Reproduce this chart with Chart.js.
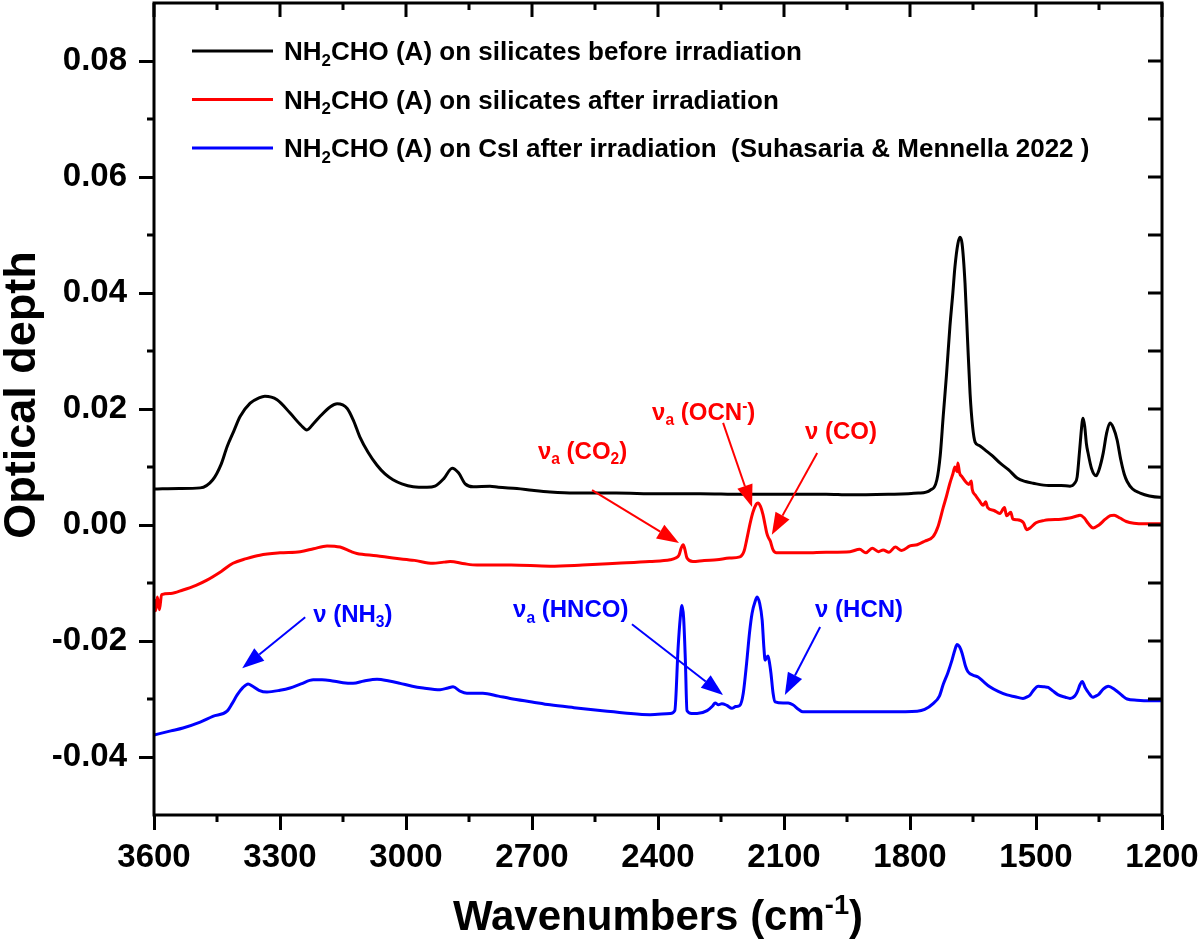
<!DOCTYPE html>
<html><head><meta charset="utf-8">
<script src="https://cdn.jsdelivr.net/npm/chart.js@4.4.0/dist/chart.umd.min.js"></script>
<style>html,body{margin:0;padding:0;background:#fff}canvas{display:block}</style>
</head><body>
<canvas id="c" width="1200" height="950"></canvas>
<script>
// ---------- data ----------
const blackWn = [3600,3540,3490,3460,3440,3426,3410,3395,3371,3350,3336,3307,3276,3250,3236,3220,3205,3180,3164,3140,3125,3110,3090,3069,3050,3031,3010,2983,2950,2931,2910,2890,2875,2859,2840,2800,2780,2736,2700,2657,2600,2500,2400,2300,2200,2100,2000,1943,1850,1780,1752,1736,1728,1721,1713,1705,1698,1693,1686,1681,1676,1669,1663,1657,1651,1645,1635,1626,1605,1586,1565,1545,1525,1507,1470,1440,1419,1408,1402,1396,1390,1388,1384,1380,1376,1368,1357,1350,1340,1332,1324,1316,1307,1298,1290,1283,1270,1252,1230,1205,1200];
const blackOD = [0.0062,0.0063,0.0064,0.0078,0.0105,0.0135,0.0162,0.0187,0.0210,0.0219,0.0222,0.0216,0.0193,0.0172,0.0164,0.0175,0.0187,0.0204,0.0209,0.0201,0.0180,0.0152,0.0125,0.0103,0.0088,0.0078,0.0071,0.0066,0.0065,0.0067,0.0080,0.0098,0.0090,0.0071,0.0066,0.0067,0.0065,0.0063,0.0060,0.0057,0.0055,0.0055,0.0054,0.0054,0.0053,0.0053,0.0053,0.0052,0.0053,0.0055,0.0060,0.0078,0.0120,0.0187,0.0260,0.0342,0.0400,0.0445,0.0485,0.0496,0.0485,0.0417,0.0320,0.0227,0.0170,0.0143,0.0137,0.0132,0.0120,0.0107,0.0095,0.0081,0.0075,0.0072,0.0068,0.0068,0.0067,0.0072,0.0083,0.0130,0.0178,0.0184,0.0170,0.0140,0.0124,0.0098,0.0085,0.0095,0.0124,0.0158,0.0176,0.0168,0.0147,0.0112,0.0088,0.0075,0.0062,0.0055,0.0050,0.0048,0.0048];

const redWn = [3600,3596,3592,3587,3582,3560,3531,3500,3474,3440,3412,3380,3348,3300,3252,3220,3188,3157,3130,3117,3070,3031,2980,2936,2910,2895,2860,2831,2750,2657,2580,2498,2420,2371,2358,2350,2345,2340,2336,2331,2317,2290,2260,2230,2205,2195,2189,2180,2174,2166,2162,2156,2150,2145,2141,2137,2133,2126,2118,2102,2050,2000,1943,1920,1905,1890,1875,1864,1850,1835,1820,1800,1783,1765,1745,1733,1721,1713,1705,1698,1693,1688,1686,1682,1676,1668,1660,1654,1652,1645,1635,1626,1620,1615,1600,1586,1575,1570,1560,1555,1545,1530,1522,1514,1500,1480,1467,1440,1420,1400,1395,1385,1375,1364,1350,1335,1323,1314,1300,1285,1267,1240,1205,1200];
const redOD = [-0.0128,-0.0148,-0.0124,-0.0146,-0.0120,-0.0118,-0.0112,-0.0104,-0.0095,-0.0080,-0.0066,-0.0058,-0.0052,-0.0048,-0.0046,-0.0041,-0.0036,-0.0038,-0.0046,-0.0049,-0.0053,-0.0057,-0.0061,-0.0066,-0.0064,-0.0063,-0.0067,-0.0069,-0.0069,-0.0071,-0.0069,-0.0066,-0.0063,-0.0060,-0.0057,-0.0052,-0.0040,-0.0034,-0.0042,-0.0057,-0.0063,-0.0061,-0.0060,-0.0057,-0.0055,-0.0045,-0.0026,0.0005,0.0022,0.0036,0.0038,0.0032,0.0018,0.0000,-0.0014,-0.0022,-0.0027,-0.0043,-0.0048,-0.0048,-0.0048,-0.0047,-0.0046,-0.0042,-0.0048,-0.0040,-0.0046,-0.0043,-0.0047,-0.0038,-0.0044,-0.0036,-0.0034,-0.0028,-0.0020,-0.0002,0.0030,0.0050,0.0072,0.0088,0.0100,0.0092,0.0107,0.0090,0.0083,0.0075,0.0070,0.0076,0.0062,0.0052,0.0042,0.0034,0.0040,0.0030,0.0025,0.0020,0.0030,0.0016,0.0022,0.0010,0.0009,0.0004,-0.0008,-0.0005,0.0004,0.0008,0.0009,0.0010,0.0012,0.0016,0.0017,0.0012,0.0002,-0.0005,0.0000,0.0010,0.0016,0.0017,0.0012,0.0006,0.0003,0.0002,0.0002,0.0002];

const blueWn = [3600,3560,3531,3490,3460,3426,3414,3402,3388,3376,3365,3350,3331,3300,3276,3250,3221,3200,3181,3150,3126,3100,3069,3040,3014,2985,2959,2919,2900,2888,2870,2855,2817,2780,2752,2700,2657,2600,2538,2480,2419,2371,2360,2352,2347,2343,2339,2335,2331,2320,2307,2283,2270,2264,2256,2248,2236,2224,2215,2205,2197,2189,2182,2176,2168,2164,2158,2152,2148,2145,2141,2138,2134,2131,2126,2121,2102,2090,2079,2065,2055,2000,1943,1850,1783,1765,1745,1730,1721,1710,1700,1693,1688,1682,1676,1668,1662,1650,1638,1625,1610,1590,1569,1550,1531,1520,1514,1505,1495,1480,1471,1460,1447,1430,1419,1408,1402,1395,1390,1383,1376,1364,1358,1352,1340,1328,1312,1295,1283,1260,1230,1200];
const blueOD = [-0.0362,-0.0355,-0.0350,-0.0340,-0.0330,-0.0321,-0.0308,-0.0293,-0.0280,-0.0274,-0.0278,-0.0285,-0.0288,-0.0285,-0.0281,-0.0274,-0.0267,-0.0267,-0.0268,-0.0272,-0.0273,-0.0269,-0.0266,-0.0269,-0.0273,-0.0278,-0.0281,-0.0284,-0.0281,-0.0279,-0.0287,-0.0290,-0.0290,-0.0295,-0.0299,-0.0305,-0.0310,-0.0315,-0.0320,-0.0324,-0.0327,-0.0325,-0.0320,-0.0210,-0.0160,-0.0139,-0.0160,-0.0230,-0.0320,-0.0325,-0.0325,-0.0320,-0.0312,-0.0307,-0.0310,-0.0308,-0.0311,-0.0316,-0.0313,-0.0311,-0.0290,-0.0238,-0.0185,-0.0152,-0.0130,-0.0124,-0.0135,-0.0164,-0.0210,-0.0233,-0.0228,-0.0226,-0.0240,-0.0256,-0.0290,-0.0305,-0.0307,-0.0307,-0.0310,-0.0318,-0.0322,-0.0322,-0.0322,-0.0322,-0.0321,-0.0318,-0.0308,-0.0295,-0.0275,-0.0255,-0.0233,-0.0215,-0.0206,-0.0210,-0.0221,-0.0243,-0.0253,-0.0259,-0.0262,-0.0270,-0.0279,-0.0287,-0.0293,-0.0296,-0.0299,-0.0296,-0.0293,-0.0284,-0.0278,-0.0279,-0.0280,-0.0286,-0.0293,-0.0297,-0.0299,-0.0295,-0.0288,-0.0275,-0.0270,-0.0280,-0.0288,-0.0297,-0.0295,-0.0293,-0.0283,-0.0278,-0.0284,-0.0294,-0.0300,-0.0302,-0.0303,-0.0303];

const seriesLabels = [
  "NH_{2}CHO (A) on silicates before irradiation",
  "NH_{2}CHO (A) on silicates after irradiation",
  "NH_{2}CHO (A) on CsI after irradiation  (Suhasaria & Mennella 2022 )"
];
const seriesColors = ["#000000", "#ff0000", "#0000ff"];

const xTicks = [3600, 3300, 3000, 2700, 2400, 2100, 1800, 1500, 1200];
const xMinor = [3450, 3150, 2850, 2550, 2250, 1950, 1650, 1350];
const yTicks = [-0.04, -0.02, 0.00, 0.02, 0.04, 0.06, 0.08];
const yMinor = [-0.03, -0.01, 0.01, 0.03, 0.05, 0.07];

const annLabels = ["ν_{a} (CO_{2})", "ν_{a} (OCN^{-})", "ν (CO)", "ν (NH_{3})", "ν_{a} (HNCO)", "ν (HCN)"];
const annColors = ["#ff0000", "#ff0000", "#ff0000", "#0000ff", "#0000ff", "#0000ff"];
const annTextWn = [2686, 2414, 2050, 3221, 2745, 2026];
const annTextOD = [0.0114, 0.0181, 0.0148, -0.0167, -0.0159, -0.0159];
const arrowFromWn = [2557, 2245, 2021, 3240, 2462, 2014];
const arrowFromOD = [0.0060, 0.0176, 0.0124, -0.0159, -0.0171, -0.0176];
const arrowToWn = [2350, 2176, 2129, 3390, 2245, 2098];
const arrowToOD = [-0.0031, 0.0031, -0.0017, -0.0247, -0.0293, -0.0293];

// ---------- helpers ----------
const FONT = '"Liberation Sans", Arial, Helvetica, sans-serif';

function parseRich(str) {
  const segs = [];
  let i = 0, buf = "";
  while (i < str.length) {
    if ((str[i] === "_" || str[i] === "^") && str[i + 1] === "{") {
      if (buf) { segs.push({ t: buf, k: "n" }); buf = ""; }
      const end = str.indexOf("}", i);
      segs.push({ t: str.slice(i + 2, end), k: str[i] === "_" ? "sub" : "sup" });
      i = end + 1;
    } else { buf += str[i]; i++; }
  }
  if (buf) segs.push({ t: buf, k: "n" });
  return segs;
}
function richWidth(ctx, segs, size) {
  let w = 0;
  for (const s of segs) {
    const sz = s.k === "n" ? size : size * 0.65;
    ctx.font = "bold " + sz + "px " + FONT;
    w += ctx.measureText(s.t).width;
  }
  return w;
}
function drawRich(ctx, str, x, y, size, color, align) {
  const segs = parseRich(str);
  const w = richWidth(ctx, segs, size);
  let cx = align === "center" ? x - w / 2 : x;
  ctx.fillStyle = color;
  ctx.textBaseline = "alphabetic";
  ctx.textAlign = "left";
  for (const s of segs) {
    const sz = s.k === "n" ? size : size * 0.65;
    const dy = s.k === "sub" ? size * 0.22 : (s.k === "sup" ? -size * 0.38 : 0);
    ctx.font = "bold " + sz + "px " + FONT;
    ctx.fillText(s.t, cx, y + dy);
    cx += ctx.measureText(s.t).width;
  }
}
function drawArrow(ctx, x1, y1, x2, y2, color) {
  const ang = Math.atan2(y2 - y1, x2 - x1);
  const hl = 22, hw = 8;
  const bx = x2 - hl * Math.cos(ang), by = y2 - hl * Math.sin(ang);
  ctx.strokeStyle = color; ctx.fillStyle = color; ctx.lineWidth = 2;
  ctx.beginPath(); ctx.moveTo(x1, y1); ctx.lineTo(bx, by); ctx.stroke();
  ctx.beginPath();
  ctx.moveTo(x2, y2);
  ctx.lineTo(bx + hw * Math.sin(ang), by - hw * Math.cos(ang));
  ctx.lineTo(bx - hw * Math.sin(ang), by + hw * Math.cos(ang));
  ctx.closePath(); ctx.fill();
}

const decorPlugin = {
  id: "decor",
  afterDraw(chart) {
    const ctx = chart.ctx, a = chart.chartArea;
    const xs = chart.scales.x, ys = chart.scales.y;
    ctx.save();
    // frame
    ctx.strokeStyle = "#000"; ctx.lineWidth = 3;
    ctx.strokeRect(a.left, a.top, a.right - a.left, a.bottom - a.top);
    ctx.lineWidth = 3;
    ctx.beginPath();
    for (const v of xMinor) {
      const p = xs.getPixelForValue(v);
      ctx.moveTo(p, a.bottom); ctx.lineTo(p, a.bottom + 7);
      ctx.moveTo(p, a.top); ctx.lineTo(p, a.top + 7);
    }
    for (const v of xTicks) {
      const p = xs.getPixelForValue(v);
      ctx.moveTo(p, a.top); ctx.lineTo(p, a.top + 14);
    }
    for (const v of yMinor) {
      const p = ys.getPixelForValue(v);
      ctx.moveTo(a.left, p); ctx.lineTo(a.left - 7, p);
      ctx.moveTo(a.right, p); ctx.lineTo(a.right - 14, p);
    }
    for (const v of yTicks) {
      const p = ys.getPixelForValue(v);
      ctx.moveTo(a.right, p); ctx.lineTo(a.right - 14, p);
    }
    ctx.stroke();

    // legend
    chart.data.datasets.forEach((ds, i) => {
      const ly = 51 + i * 48.5;
      ctx.strokeStyle = ds.borderColor; ctx.lineWidth = 3;
      ctx.beginPath(); ctx.moveTo(192, ly); ctx.lineTo(273, ly); ctx.stroke();
      drawRich(ctx, seriesLabels[i], 284, ly + 9, 26, "#000", "left");
    });

    // annotations
    for (let i = 0; i < annLabels.length; i++) {
      drawRich(ctx, annLabels[i], xs.getPixelForValue(annTextWn[i]), ys.getPixelForValue(annTextOD[i]), 24, annColors[i], "left");
      drawArrow(ctx,
        xs.getPixelForValue(arrowFromWn[i]), ys.getPixelForValue(arrowFromOD[i]),
        xs.getPixelForValue(arrowToWn[i]), ys.getPixelForValue(arrowToOD[i]), annColors[i]);
    }

    // axis titles
    drawRich(ctx, "Wavenumbers (cm^{-1})", (a.left + a.right) / 2, 930, 42, "#000", "center");
    ctx.translate(35, 395);
    ctx.rotate(-Math.PI / 2);
    drawRich(ctx, "Optical depth", 0, 0, 45, "#000", "center");
    ctx.restore();
  }
};

function pts(wn, od) { return wn.map((w, i) => ({ x: w, y: od[i] })); }

const tickFont = { family: FONT, size: 33, weight: "bold" };

new Chart(document.getElementById("c"), {
  type: "line",
  data: {
    datasets: [
      { label: seriesLabels[0], data: pts(blackWn, blackOD), borderColor: seriesColors[0] },
      { label: seriesLabels[1], data: pts(redWn, redOD), borderColor: seriesColors[1] },
      { label: seriesLabels[2], data: pts(blueWn, blueOD), borderColor: seriesColors[2] }
    ].map(d => Object.assign(d, { borderWidth: 3, pointRadius: 0, fill: false, cubicInterpolationMode: "monotone" }))
  },
  options: {
    responsive: false, animation: false, devicePixelRatio: 1,
    layout: { padding: { left: 0, right: 38, top: 3, bottom: 0 }, autoPadding: false },
    plugins: { legend: { display: false }, tooltip: { enabled: false } },
    scales: {
      x: {
        type: "linear", reverse: true, min: 1200, max: 3600,
        afterBuildTicks: s => { s.ticks = xTicks.map(v => ({ value: v })); },
        afterFit: s => { s.height = 135; s.paddingLeft = 0; s.paddingRight = 0; s.paddingTop = 0; s.paddingBottom = 0; },
        ticks: { font: tickFont, color: "#000", padding: 8, maxRotation: 0, autoSkip: false, callback: v => String(v) },
        grid: { display: true, drawOnChartArea: false, drawTicks: true, tickLength: 15, tickWidth: 3, color: "#000" },
        border: { display: false }
      },
      y: {
        type: "linear", min: -0.05, max: 0.09,
        afterBuildTicks: s => { s.ticks = yTicks.map(v => ({ value: v })); },
        afterFit: s => { s.width = 154; s.paddingLeft = 0; s.paddingRight = 0; s.paddingTop = 0; s.paddingBottom = 0; },
        ticks: { font: tickFont, color: "#000", padding: 12, autoSkip: false, callback: v => v.toFixed(2) },
        grid: { display: true, drawOnChartArea: false, drawTicks: true, tickLength: 15, tickWidth: 3, color: "#000" },
        border: { display: false }
      }
    }
  },
  plugins: [decorPlugin]
});
</script>
</body></html>
